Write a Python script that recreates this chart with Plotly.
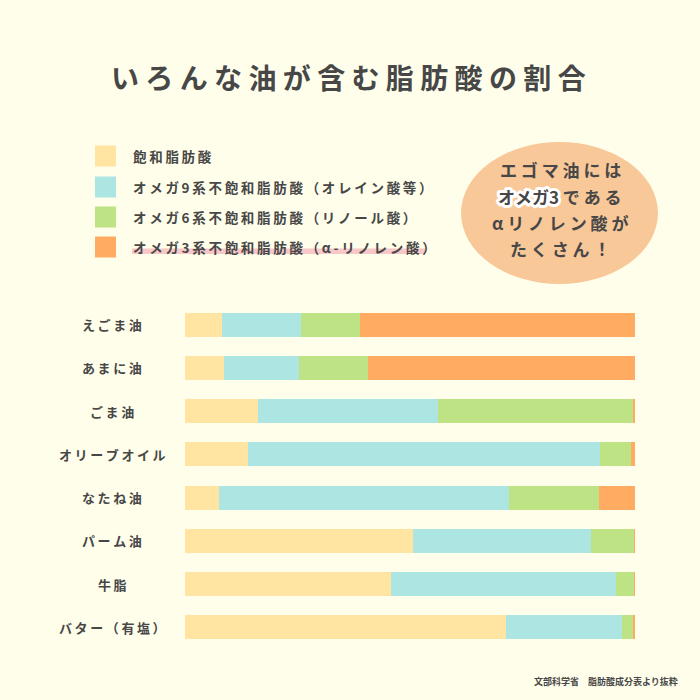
import plotly.graph_objects as go

categories = ["えごま油", "あまに油", "ごま油", "オリーブオイル", "なたね油", "パーム油", "牛脂", "バター（有塩）"]
series_names = [
    "飽和脂肪酸",
    "オメガ9系不飽和脂肪酸（オレイン酸等）",
    "オメガ6系不飽和脂肪酸（リノール酸）",
    "オメガ3系不飽和脂肪酸（α-リノレン酸）",
]
saturated = [8.2, 8.7, 16.2, 14.0, 7.6, 50.7, 45.7, 71.4]
omega9 = [17.6, 16.7, 40.0, 78.2, 64.3, 39.5, 50.1, 25.6]
omega6 = [13.1, 15.2, 43.3, 7.0, 20.0, 9.6, 4.0, 2.5]
omega3 = [61.1, 59.4, 0.5, 0.8, 8.1, 0.2, 0.2, 0.5]
series_values = [saturated, omega9, omega6, omega3]
colors = ["#ffe5a1", "#ace5e1", "#bee384", "#ffab62"]

title_text = "いろんな油が含む脂肪酸の割合"
callout_lines = ["エゴマ油には", None, "αリノレン酸が", "たくさん！"]
source_text = "文部科学省　脂肪酸成分表より抜粋"

W, H = 700, 700
ML, MR, MT, MB = 185, 65, 303, 51
PW, PH = W - ML - MR, H - MT - MB
FONT = "Noto Sans CJK JP"
TXT = "#474747"
BG = "#fffeea"


def px(x):
    return (x - ML) / PW


def py(y):
    return (H - MB - y) / PH


def spaced(s, sep=" "):
    return sep.join(list(s))


fig = go.Figure()
for name, vals, col in zip(series_names, series_values, colors):
    fig.add_trace(go.Bar(
        y=categories, x=vals, name=name, orientation="h",
        marker=dict(color=col, line=dict(width=0)),
        hoverinfo="x+name", showlegend=False,
    ))

annotations = []
shapes = []

# title
annotations.append(dict(
    xref="paper", yref="paper", x=px(348), y=py(77), xanchor="center", yanchor="middle",
    text="<b>" + spaced(title_text) + "</b>", showarrow=False,
    font=dict(family=FONT, size=28, color=TXT),
))

# category labels (centered)
for c in categories:
    annotations.append(dict(
        xref="paper", yref="y", x=px(112), y=c, xanchor="center", yanchor="middle",
        text="<b>" + spaced(c, "\u2009") + "</b>", showarrow=False,
        font=dict(family=FONT, size=13, color=TXT),
    ))

# legend (manual)
leg_y = [156, 187, 217, 247]
# pink underline for last item
shapes.append(dict(
    type="rect", xref="paper", yref="paper", x0=px(132), x1=px(425), y0=py(254), y1=py(248.5),
    fillcolor="rgba(246,180,188,0.75)", line=dict(width=0), layer="above",
))
for name, col, yy in zip(series_names, colors, leg_y):
    shapes.append(dict(
        type="rect", xref="paper", yref="paper", x0=px(95), x1=px(116), y0=py(yy + 10.5), y1=py(yy - 10.5),
        fillcolor=col, line=dict(width=0),
    ))
    annotations.append(dict(
        xref="paper", yref="paper", x=px(131), y=py(yy), xanchor="left", yanchor="middle",
        text="<b>" + spaced(name, "\u2009") + "</b>", showarrow=False,
        font=dict(family=FONT, size=13.5, color=TXT),
    ))

# callout bubble
shapes.append(dict(
    type="circle", xref="paper", yref="paper", x0=px(461), x1=px(658), y0=py(284), y1=py(142),
    fillcolor="#f9c899", line=dict(width=0),
))
line_y = [170, 196, 223, 249]
for ln, yy in zip(callout_lines, line_y):
    if ln is None:
        txt = ("<span style='stroke:#ffffff;stroke-width:6px;paint-order:stroke;stroke-linejoin:round'>"
               "<b>オメガ3</b></span> <b>" + spaced("である") + "</b>")
    else:
        txt = "<b>" + spaced(ln) + "</b>"
    annotations.append(dict(
        xref="paper", yref="paper", x=px(560), y=py(yy), xanchor="center", yanchor="middle",
        text=txt, showarrow=False,
        font=dict(family=FONT, size=17, color=TXT),
    ))

# source
annotations.append(dict(
    xref="paper", yref="paper", x=px(680), y=py(681), xanchor="right", yanchor="middle",
    text="<b>" + source_text + "</b>", showarrow=False,
    font=dict(family=FONT, size=9, color=TXT),
))

fig.update_layout(
    width=W, height=H,
    margin=dict(l=ML, r=MR, t=MT, b=MB),
    paper_bgcolor=BG, plot_bgcolor=BG,
    barmode="stack", bargap=0.45,
    xaxis=dict(range=[0, 100], visible=False, fixedrange=True),
    yaxis=dict(categoryorder="array", categoryarray=categories, range=[7.5, -0.5],
               visible=False, fixedrange=True),
    annotations=annotations, shapes=shapes,
    font=dict(family=FONT),
)

fig.write_html(
    "out.html",
    config={"displayModeBar": False},
    post_script="document.body.style.margin='0';document.body.style.background='" + BG + "';",
)
